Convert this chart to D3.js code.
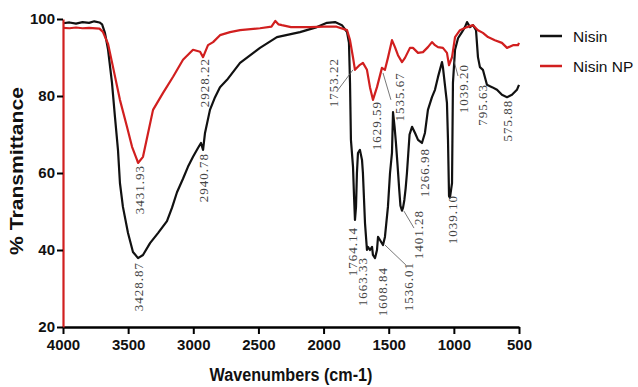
<!DOCTYPE html>
<html>
<head>
<meta charset="utf-8">
<script src="https://cdn.jsdelivr.net/npm/d3@7"></script>
<style>
  body { margin: 0; background: #fff; }
  svg { display: block; }
</style>
</head>
<body>
<script>
const w = 638;
const h = 387;

// Nisin spectrum: [wavenumber, %T]
const nisin = [
  [4000, 98.9], [3950, 99.1], [3900, 98.8], [3850, 99.2], [3800, 99.0], [3760, 99.4], [3720, 99.1],
  [3700, 98.6], [3678, 96.4], [3654, 92], [3624, 83.4], [3601, 74.5], [3578, 66], [3563, 57.4],
  [3540, 51.2], [3501, 44.4], [3463, 39.5], [3424, 37.9], [3386, 38.7], [3332, 41.8], [3271, 44.4],
  [3202, 47.5], [3163, 51], [3125, 55], [3079, 58.5], [3041, 61.6], [3002, 64.2], [2964, 66.5],
  [2941, 67.8], [2925, 66], [2910, 70.4], [2872, 76.4], [2833, 79.7], [2795, 82.3], [2741, 84.2],
  [2641, 88.6], [2488, 92.5], [2358, 95.3], [2181, 96.6], [2051, 97.9], [1974, 99], [1912, 99.2],
  [1859, 98.4], [1820, 96.6], [1805, 93.8], [1797, 83.4], [1790, 68.6], [1774, 61.6], [1766, 53.8],
  [1759, 47.8], [1751, 51.2], [1744, 60], [1736, 65.2], [1721, 66], [1705, 63.4], [1698, 60],
  [1682, 47], [1667, 40], [1659, 40.8], [1644, 40], [1628, 40.8], [1621, 38.7], [1605, 37.9],
  [1590, 40], [1582, 43.4], [1567, 42.6], [1544, 41.3], [1529, 43.4], [1506, 51.2], [1490, 60],
  [1475, 65.2], [1467, 75.8], [1455, 72], [1445, 68], [1432, 62], [1420, 56], [1410, 51.5],
  [1398, 50.2], [1390, 51], [1380, 53], [1370, 56], [1360, 60], [1350, 65], [1340, 70], [1321, 72],
  [1298, 70.4], [1275, 68.6], [1245, 67.8], [1222, 70.4], [1199, 76.4], [1168, 79.7], [1145, 81.6],
  [1122, 84.9], [1091, 88.8], [1084, 87.5], [1053, 78.2], [1045, 68.6], [1037, 54], [1030, 53.6],
  [1014, 57.4], [1007, 83.4], [991, 92], [968, 95], [938, 96.6], [915, 97.9], [899, 99.2], [876, 97.9],
  [853, 98.4], [830, 97.1], [815, 90.1], [800, 87.5], [777, 86.8], [746, 82.9], [707, 82.3],
  [669, 81.6], [631, 80.3], [592, 79.7], [554, 80.3], [516, 81.6], [500, 82.9]
];

// Nisin NP spectrum: [wavenumber, %T]
const nisinNP = [
  [4000, 97.7], [3950, 97.6], [3900, 97.8], [3850, 97.6], [3800, 97.7], [3720, 97.5], [3693, 96.6],
  [3654, 93.5], [3616, 87.5], [3563, 79], [3509, 72], [3470, 66.8], [3432, 63.4], [3424, 62.6],
  [3386, 64.2], [3347, 70.4], [3309, 76.4], [3232, 80.8], [3155, 85], [3079, 89.4], [3002, 92],
  [2948, 91.5], [2925, 90.1], [2887, 93.2], [2848, 94], [2795, 95.8], [2718, 96.6], [2641, 97.1],
  [2488, 97.6], [2400, 98], [2370, 99.5], [2345, 98.6], [2320, 98.4], [2250, 97.9], [2100, 97.9],
  [2000, 98], [1900, 98], [1820, 97.1], [1797, 94.5], [1774, 90], [1759, 86.8], [1721, 88.1],
  [1698, 88.6], [1667, 86.8], [1644, 82.3], [1621, 79], [1590, 82.3], [1552, 87.3], [1529, 86.8],
  [1506, 89.9], [1475, 94.5], [1452, 92.7], [1429, 90.6], [1398, 88.8], [1375, 89.9], [1337, 92.5],
  [1314, 92.5], [1275, 91.2], [1237, 91.4], [1199, 92.7], [1168, 94], [1145, 93.2], [1122, 92.7],
  [1084, 92.5], [1053, 91.2], [1037, 88], [1014, 90.1], [991, 95.3], [953, 97.1], [899, 97.9],
  [853, 98.4], [815, 97.1], [777, 96.4], [738, 95.3], [685, 94.5], [631, 93.8], [592, 92.5],
  [546, 93.2], [508, 93.2], [500, 93.8]
];

const xTicks = [4000, 3500, 3000, 2500, 2000, 1500, 1000, 500];
const yTicks = [20, 40, 60, 80, 100];

// peak labels: [text, wavenumber, %T at top of text]
const peakLabels = [
  ['3431.93', 3417, 62.1], ['3428.87', 3424, 36.9], ['2940.78', 2925, 65.2], ['2928.22', 2918, 89.9],
  ['1753.22', 1928, 89.9], ['1629.59', 1598, 78.7], ['1535.67', 1421, 86.2], ['1764.14', 1782, 46],
  ['1663.33', 1698, 38.2], ['1608.84', 1552, 35.6], ['1536.01', 1352, 36.9], ['1401.28', 1275, 50.4],
  ['1266.98', 1222, 66.5], ['1039.10', 1014, 54.3], ['1039.20', 930, 88.3], ['795.63', 777, 83.1],
  ['575.88', 585, 79]
];

// leader lines: [w1, T1, w2, T2]
const leaders = [
  [1889, 81.6, 1774, 86.8], [1544, 86, 1483, 79], [1529, 41.3, 1368, 36.1],
  [1383, 50.1, 1306, 45.7], [1007, 90.1, 968, 85.2]
];

const seriesNames = ['Nisin', 'Nisin NP'];
const seriesColors = ['#111', '#d11f1f'];

const svg = d3.select('body')
  .append('svg')
  .attr('width', w)
  .attr('height', h)
  .style('background', '#fff');

const x = d3.scaleLinear().domain([4000, 500]).range([63, 519]);
const y = d3.scaleLinear().domain([20, 100]).range([327, 19]);

const line = d3.line()
  .x(d => x(d[0]))
  .y(d => y(d[1]));

// series
svg.append('path')
  .datum(nisin)
  .attr('d', line)
  .attr('fill', 'none')
  .attr('stroke', seriesColors[0])
  .attr('stroke-width', 2.2)
  .attr('stroke-linejoin', 'round');

svg.append('path')
  .datum(nisinNP)
  .attr('d', line)
  .attr('fill', 'none')
  .attr('stroke', seriesColors[1])
  .attr('stroke-width', 2.2)
  .attr('stroke-linejoin', 'round');

// axes
const xAxis = svg.append('g')
  .attr('transform', 'translate(0,327)')
  .call(d3.axisBottom(x).tickValues(xTicks).tickFormat(d3.format('d'))
    .tickSize(7).tickPadding(5).tickSizeOuter(0));
xAxis.select('.domain').attr('stroke', '#000').attr('stroke-width', 2.5);
xAxis.selectAll('.tick line').attr('stroke', '#000').attr('stroke-width', 2);
xAxis.selectAll('.tick text')
  .style('font-family', '"Liberation Sans", Arial, sans-serif')
  .style('font-weight', 'bold')
  .style('font-size', '15px')
  .attr('fill', '#111');

const yAxis = svg.append('g')
  .attr('transform', 'translate(63,0)')
  .call(d3.axisLeft(y).tickValues(yTicks).tickSize(6).tickPadding(2).tickSizeOuter(0));
yAxis.select('.domain').attr('stroke', seriesColors[1]).attr('stroke-width', 2.2);
yAxis.selectAll('.tick line').attr('stroke', '#000').attr('stroke-width', 2);
yAxis.selectAll('.tick text')
  .style('font-family', '"Liberation Sans", Arial, sans-serif')
  .style('font-weight', 'bold')
  .style('font-size', '15px')
  .attr('fill', '#111');

// axis titles
svg.append('text')
  .text('Wavenumbers (cm-1)')
  .attr('x', 291)
  .attr('y', 381)
  .attr('text-anchor', 'middle')
  .attr('textLength', 163)
  .attr('lengthAdjust', 'spacingAndGlyphs')
  .style('font-family', '"Liberation Sans", Arial, sans-serif')
  .style('font-weight', 'bold')
  .style('font-size', '18px')
  .attr('fill', '#111');

svg.append('text')
  .text('% Transmittance')
  .attr('transform', 'translate(23,171) rotate(-90)')
  .attr('text-anchor', 'middle')
  .attr('textLength', 168)
  .attr('lengthAdjust', 'spacingAndGlyphs')
  .style('font-family', '"Liberation Sans", Arial, sans-serif')
  .style('font-weight', 'bold')
  .style('font-size', '18px')
  .attr('fill', '#111');

// peak labels
svg.selectAll('.peak')
  .data(peakLabels)
  .enter()
  .append('text')
  .attr('class', 'peak')
  .text(d => d[0])
  .attr('transform', d => `translate(${x(d[1])},${y(d[2])}) rotate(-90)`)
  .attr('text-anchor', 'end')
  .attr('dy', '0.35em')
  .style('font-family', '"Liberation Serif", "Times New Roman", serif')
  .style('font-size', '13px')
  .style('letter-spacing', '1px')
  .attr('fill', '#444');

svg.selectAll('.leader')
  .data(leaders)
  .enter()
  .append('line')
  .attr('class', 'leader')
  .attr('x1', d => x(d[0]))
  .attr('y1', d => y(d[1]))
  .attr('x2', d => x(d[2]))
  .attr('y2', d => y(d[3]))
  .attr('stroke', '#555')
  .attr('stroke-width', 0.8);

// legend
const legend = svg.selectAll('.legend')
  .data(seriesNames)
  .enter()
  .append('g')
  .attr('class', 'legend')
  .attr('transform', (d, i) => `translate(540,${36 + i * 30})`);

legend.append('line')
  .attr('x1', 0)
  .attr('x2', 22)
  .attr('stroke', (d, i) => seriesColors[i])
  .attr('stroke-width', 2.5);

legend.append('text')
  .text(d => d)
  .attr('x', 33)
  .attr('y', 6)
  .style('font-family', '"Liberation Sans", Arial, sans-serif')
  .style('font-size', '15.5px')
  .attr('fill', '#111');
</script>
</body>
</html>
